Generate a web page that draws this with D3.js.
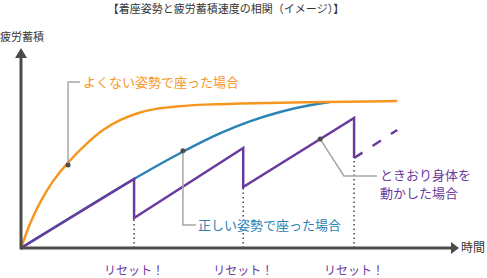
<!DOCTYPE html>
<html>
<head>
<meta charset="utf-8">
<script src="https://cdn.jsdelivr.net/npm/d3@7"></script>
<style>
  body { margin: 0; background: #fff; }
  svg text { font-family: "Noto Sans CJK JP", "Noto Sans", sans-serif; }
</style>
</head>
<body>
<svg id="chart" width="487" height="278"></svg>
<script>
// time (x) and fatigue (y), both on a 0-100 scale
var badPosture = [[0,0],[2.0,17.0],[4.3,31.3],[7.3,46.3],[10.7,58.5],[15.0,71.4],[18.6,80.6],
	[22.5,87.4],[26.4,91.8],[30.0,94.6],[36.1,96.6],[40.7,97.5],[52.0,98.6],[70.2,99.4],[85.5,100]];
var goodPosture = [[0,0],[25.7,47.6],[36.8,65.7],[45.2,78.4],[52.0,86.4],
	[58.9,92.9],[65.7,97.3],[70.2,99.3]];
var moving = [[0,0],[25.7,46.9],[25.7,20.4],[50.5,68.0],[50.5,41.5],[75.7,88.4],[75.7,61.2]];
var movingNext = [[75.7,61.2],[85.5,80.3]];
var resets = [25.7, 50.5, 75.7];
var resetLabel = "リセット！";

var title = "【着座姿勢と疲労蓄積速度の相関（イメージ）】";
var yLabel = "疲労蓄積";
var xLabel = "時間";
var labels = {
	bad: "よくない姿勢で座った場合",
	good: "正しい姿勢で座った場合",
	moving: ["ときおり身体を", "動かした場合"]
};
// where each label's marker dot sits on its line
var badDot = [10.7, 56.5];
var goodDot = [36.8, 66.2];
var movingDot = [68.0, 74.1];

var colors = { bad: "#f7961e", good: "#2a83b5", moving: "#6b3a9e", axis: "#4b4b4b", leader: "#a6a6a6" };

var svg = d3.select("#chart");
var x = d3.scaleLinear().domain([0, 100]).range([21, 461]);
var y = d3.scaleLinear().domain([0, 100]).range([248, 101]);

// title + axis labels
svg.append("text").attr("x", 226).attr("y", 13).attr("text-anchor", "middle")
	.attr("font-size", 11).attr("fill", "#333").text(title);
svg.append("text").attr("x", 0).attr("y", 41)
	.attr("font-size", 11).attr("fill", "#333").text(yLabel);
svg.append("text").attr("x", 461).attr("y", 252)
	.attr("font-size", 12).attr("fill", "#333").text(xLabel);

// reset markers
svg.selectAll(".reset-line").data(resets).enter().append("line")
	.attr("x1", function(d){ return x(d); }).attr("x2", function(d){ return x(d); })
	.attr("y1", y(0)).attr("y2", function(d, i){ return y(moving[2 + i*2][1]); })
	.attr("stroke", "#444").attr("stroke-width", 1.5).attr("stroke-dasharray", "1.5,3");
svg.selectAll(".reset-text").data(resets).enter().append("text")
	.attr("x", function(d){ return x(d); }).attr("y", 275).attr("text-anchor", "middle")
	.attr("font-size", 12).attr("fill", colors.moving).text(resetLabel);

var line = d3.line().x(function(d){ return x(d[0]); }).y(function(d){ return y(d[1]); });
var curve = d3.line().x(function(d){ return x(d[0]); }).y(function(d){ return y(d[1]); }).curve(d3.curveBasis);

svg.append("path").attr("d", curve(goodPosture)).attr("fill", "none")
	.attr("stroke", colors.good).attr("stroke-width", 2.5);
svg.append("path").attr("d", curve(badPosture)).attr("fill", "none")
	.attr("stroke", colors.bad).attr("stroke-width", 2.5);
svg.append("path").attr("d", line(moving)).attr("fill", "none")
	.attr("stroke", colors.moving).attr("stroke-width", 2.5).attr("stroke-linejoin", "miter");
svg.append("path").attr("d", line(movingNext)).attr("fill", "none")
	.attr("stroke", colors.moving).attr("stroke-width", 2.5).attr("stroke-dasharray", "10,12");

// axes with arrow heads
var ax = svg.append("g").attr("fill", colors.axis).attr("stroke", colors.axis);
ax.append("line").attr("x1", x(0)).attr("y1", y(0)).attr("x2", 452).attr("y2", y(0)).attr("stroke-width", 3);
ax.append("line").attr("x1", x(0)).attr("y1", y(0) + 1.5).attr("x2", x(0)).attr("y2", 57).attr("stroke-width", 3);
ax.append("path").attr("stroke", "none").attr("d", "M451," + (y(0) - 6) + "L459," + y(0) + "L451," + (y(0) + 6) + "Z");
ax.append("path").attr("stroke", "none").attr("d", "M" + (x(0) - 6) + ",58L" + x(0) + ",48L" + (x(0) + 6) + ",58Z");

// leaders + labels
var lead = svg.append("g").attr("fill", "none").attr("stroke", colors.leader).attr("stroke-width", 1.5);
lead.append("path").attr("d", "M" + x(badDot[0]) + "," + y(badDot[1]) + "V82H80");
lead.append("path").attr("d", "M" + x(goodDot[0]) + "," + y(goodDot[1]) + "V225H196");
lead.append("path").attr("d", "M" + x(movingDot[0]) + "," + y(movingDot[1]) + "L344,176H377");

svg.selectAll(".dot").data([badDot, goodDot, movingDot]).enter().append("circle")
	.attr("cx", function(d){ return x(d[0]); }).attr("cy", function(d){ return y(d[1]); })
	.attr("r", 2.5).attr("fill", "#4d4d4d");

svg.append("text").attr("x", 83).attr("y", 87).attr("font-size", 13).attr("fill", colors.bad).text(labels.bad);
svg.append("text").attr("x", 198).attr("y", 230).attr("font-size", 13).attr("fill", colors.good)
	.attr("stroke", "#fff").attr("stroke-width", 3).attr("paint-order", "stroke").text(labels.good);
svg.selectAll(".mv").data(labels.moving).enter().append("text")
	.attr("x", 380).attr("y", function(d, i){ return 180 + i*18; })
	.attr("font-size", 13).attr("fill", colors.moving).text(function(d){ return d; });
</script>
</body>
</html>
